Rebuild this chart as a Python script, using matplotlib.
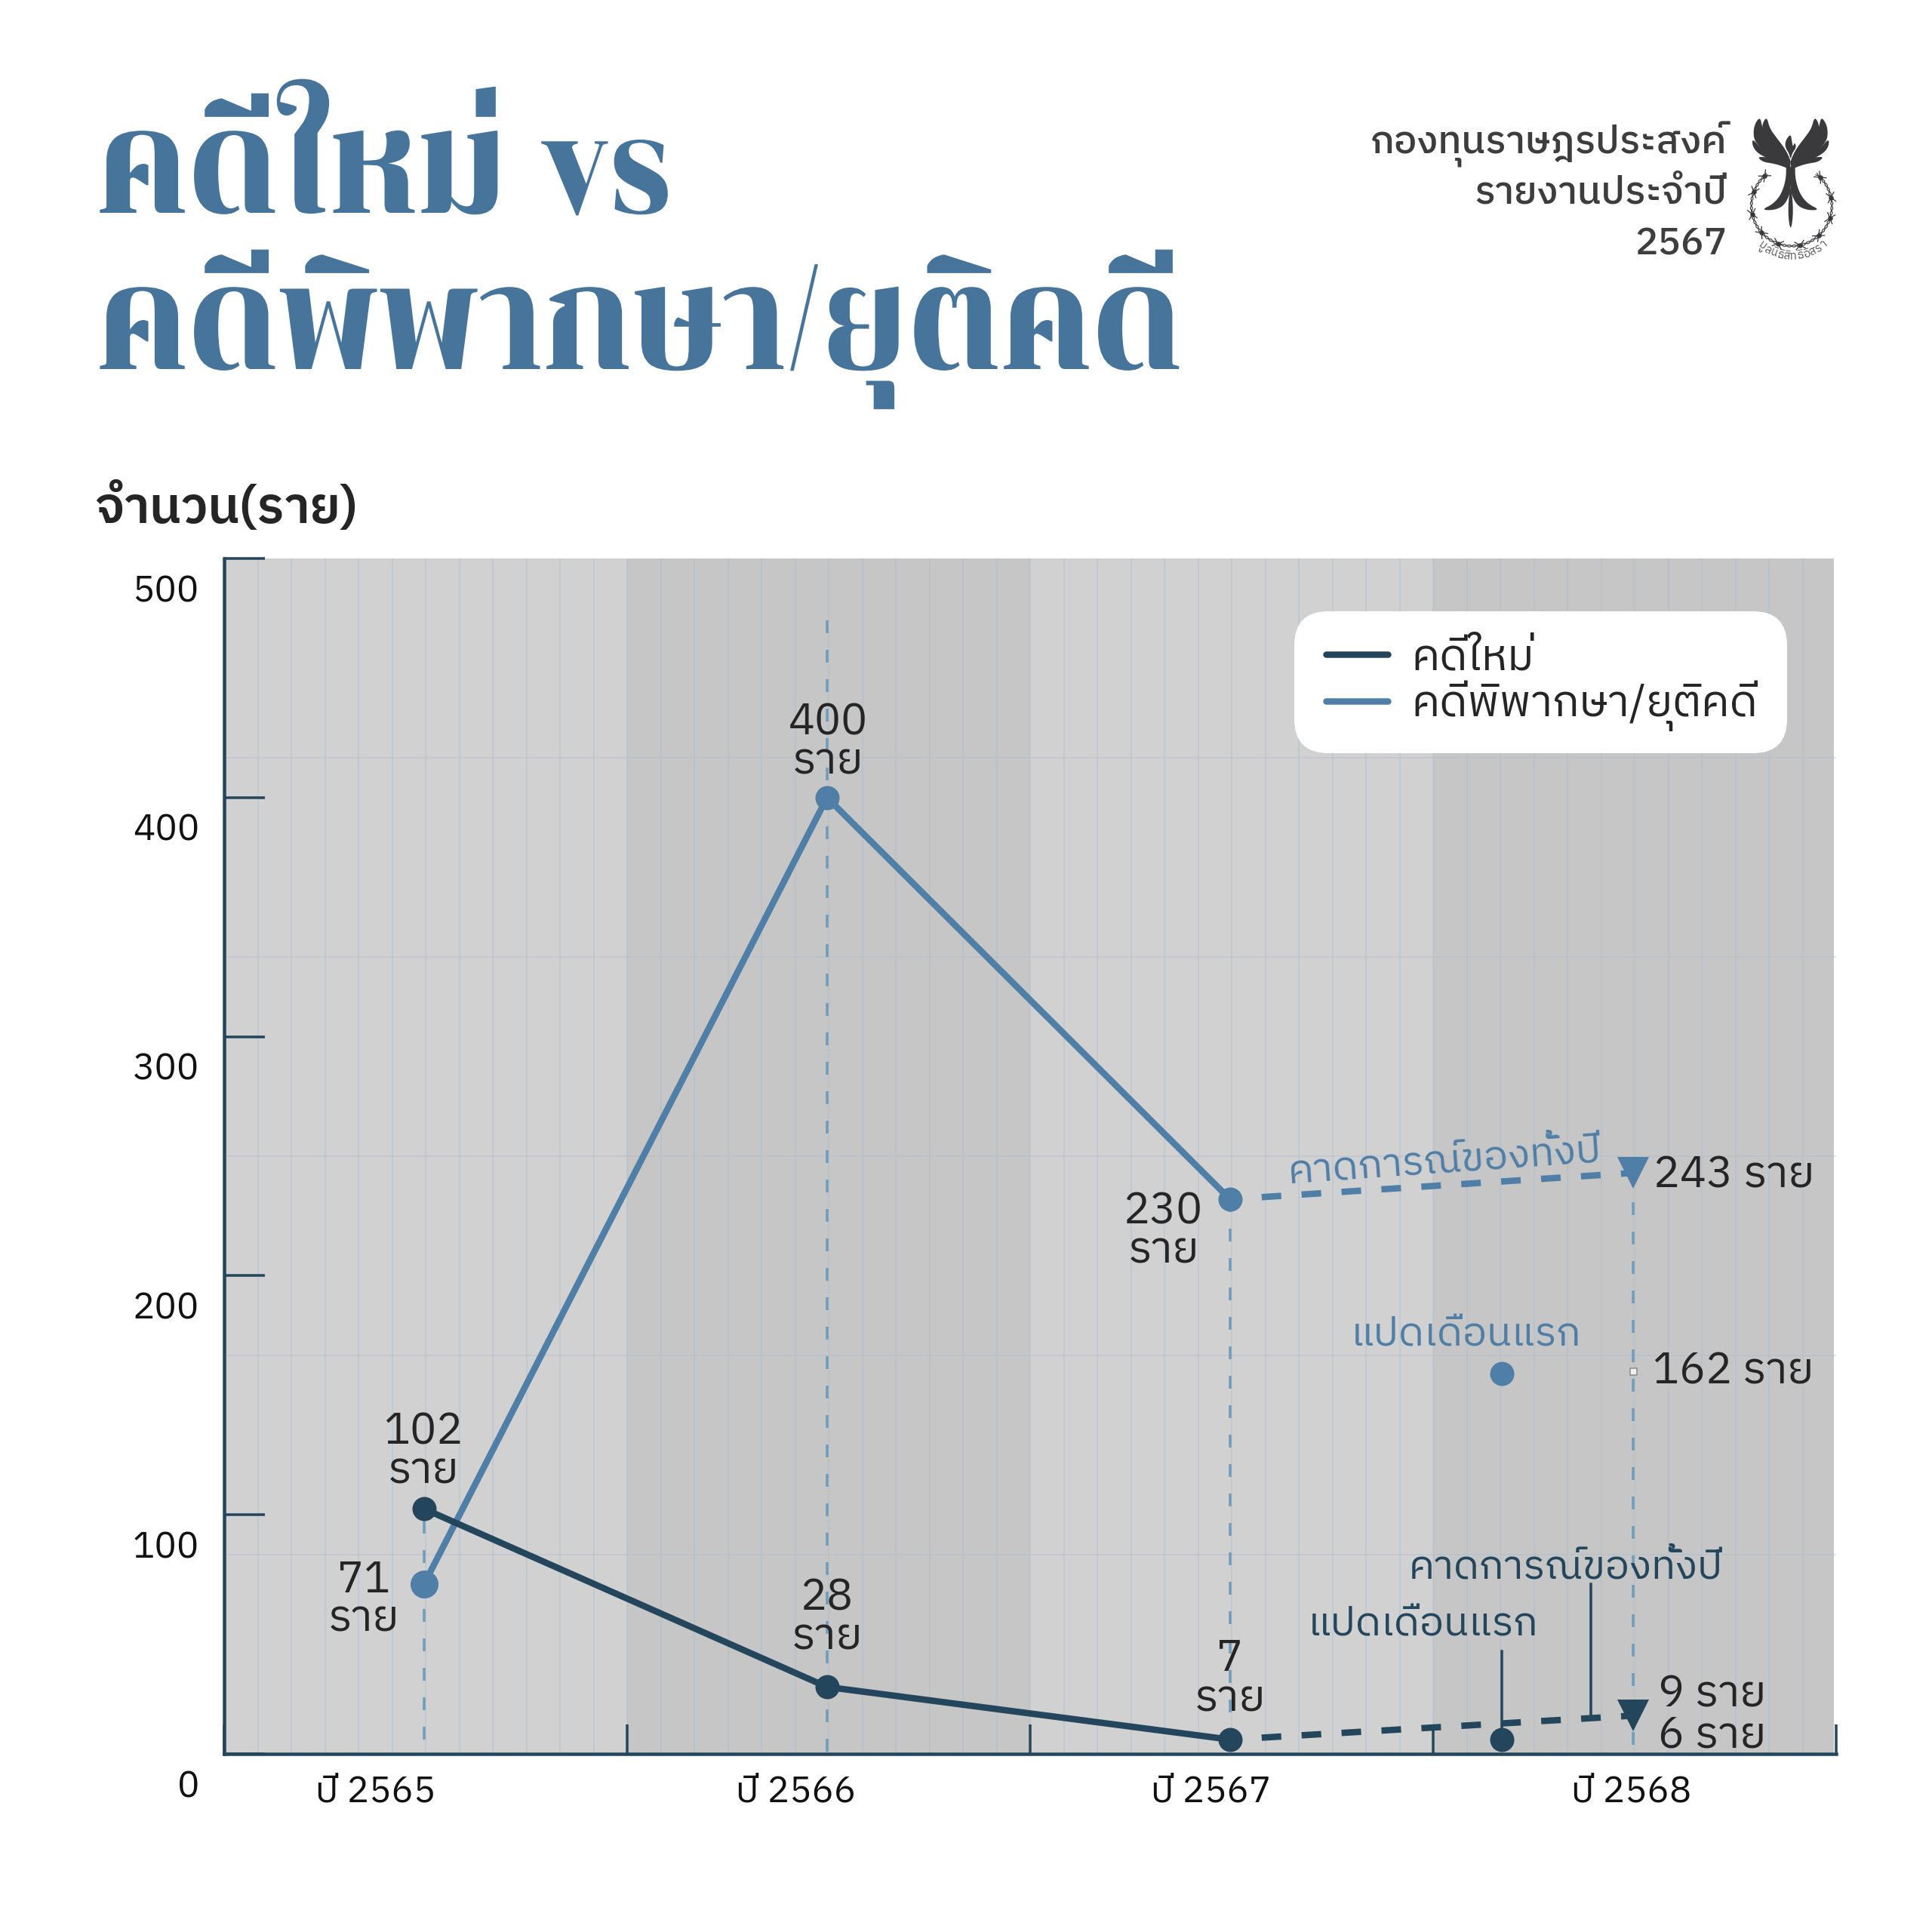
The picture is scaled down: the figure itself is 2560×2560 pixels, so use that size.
import numpy as np
import matplotlib
matplotlib.use('Agg')
import matplotlib.pyplot as plt
from matplotlib.patches import FancyBboxPatch, Polygon
from matplotlib.patheffects import AbstractPathEffect
from matplotlib.transforms import ScaledTranslation, Affine2D

BODY = ['IBM Plex Sans Thai', 'DejaVu Sans']
TITLE = ['Chonburi', 'DejaVu Serif']
plt.rcParams['font.family'] = BODY

DARK = '#24465c'
BLUE = '#4f7ea6'
TITLEC = '#47749a'
INK = '#252525'
LOGO = '#3a3a3c'

years = ['ปี 2565', 'ปี 2566', 'ปี 2567', 'ปี 2568']
year_pos = [0, 1, 2, 3]
new_cases = [102.5, 28, 6]
new_labels = [102, 28, 7]
closed_cases = [71, 400, 232]
closed_labels = [71, 400, 230]
forecast_new = 16
forecast_closed = 243
eight_month_x = 2.675
eight_month_new = 6
eight_month_closed = 159
y_ticks = [0, 100, 200, 300, 400, 500]

W = 2560
fig = plt.figure(figsize=(10, 10), dpi=256, facecolor='white')
def fs(px):
    return px * 72 / 256
lw3, lw8 = fs(3.5), fs(8.5)

L, R, B, T = 297, 2433, 2324, 740
ax = fig.add_axes([L / W, 1 - B / W, (R - L) / W, (B - T) / W])
x0 = -0.496
ax.set_xlim(x0, x0 + 4)
ax.set_ylim(0, 500)
ax.set_facecolor('white')

for k in range(4):
    right = x0 + k + 1 - (0.005 if k == 3 else 0)
    ax.axvspan(x0 + k, right, color='#d2d1d2' if k % 2 == 0 else '#c6c6c6', lw=0, zorder=0)
ax.vlines(x0 + np.arange(1, 48) / 12, 0, 500, color='#adbfcc', lw=fs(1.6), alpha=.55, zorder=1)
ax.hlines(np.arange(1, 6) * 500 / 6, x0, x0 + 4, color='#adbfcc', lw=fs(1.6), alpha=.5, zorder=1)

dash_v = (0, (17 / 3.5, 22 / 3.5))
guide = dict(color='#6f9cbc', lw=lw3, ls=dash_v, zorder=2)
ax.plot([year_pos[0]] * 2, [new_cases[0] - 5, 5], **guide)
ax.plot([year_pos[1]] * 2, [474, 1], **guide)
ax.plot([year_pos[2]] * 2, [closed_cases[2], 1], **guide)
ax.plot([year_pos[3]] * 2, [forecast_closed, 1], **guide)

l1, = ax.plot(year_pos[:3], new_cases, color=DARK, lw=lw8, zorder=4, solid_capstyle='round', label='คดีใหม่')
l2, = ax.plot(year_pos[:3], closed_cases, color=BLUE, lw=lw8, zorder=3, solid_capstyle='round', label='คดีพิพากษา/ยุติคดี')
ms = fs(32)
ax.plot(year_pos[:3], new_cases, 'o', color=DARK, ms=ms, mew=0, zorder=5)
ax.plot(year_pos[1:3], closed_cases[1:], 'o', color=BLUE, ms=ms, mew=0, zorder=5)
ax.plot(year_pos[0], closed_cases[0], 'o', color=BLUE, ms=fs(37), mew=0, zorder=5)

dash_f = (11 / 8.5, (26 / 8.5, 27 / 8.5))
ax.plot([2, 3], [closed_cases[2], forecast_closed], color=BLUE, lw=lw8, ls=dash_f, zorder=3)
ax.plot([2, 3], [new_cases[2], forecast_new], color=DARK, lw=lw8, ls=dash_f, zorder=3)
ax.plot(3, forecast_closed, 'v', color=BLUE, ms=fs(42), mew=0, zorder=5)
ax.plot(3, forecast_new, 'v', color=DARK, ms=fs(42), mew=0, zorder=5)
ax.plot(eight_month_x, eight_month_closed, 'o', color=BLUE, ms=ms, mew=0, zorder=5)
ax.plot(eight_month_x, eight_month_new, 'o', color=DARK, ms=ms, mew=0, zorder=5)
ax.plot(3, eight_month_closed + 1, 's', mfc='#f0f0f0', mec='#8a8a8a', mew=fs(1.5), ms=fs(9), zorder=5)

ax.plot([eight_month_x] * 2, [eight_month_new, 43], color=DARK, lw=fs(3.5), zorder=4)
ax.plot([2.896] * 2, [14.5, 71], color=DARK, lw=fs(3.5), zorder=4)

for s in ('top', 'right'):
    ax.spines[s].set_visible(False)
for s in ('left', 'bottom'):
    ax.spines[s].set_color(DARK)
    ax.spines[s].set_linewidth(fs(4.5))
ax.set_yticks(y_ticks)
ax.set_xticks([x0 + k for k in range(5)])
ax.set_xticklabels([])
ax.tick_params(axis='y', direction='in', length=fs(54), width=fs(3.5), color=DARK, pad=fs(33), labelsize=fs(49), labelcolor='#111111')
ax.tick_params(axis='x', direction='in', length=fs(39), width=fs(3.5), color=DARK)
off = ScaledTranslation(0, -39 / 256, fig.dpi_scale_trans)
for lab in ax.get_yticklabels():
    lab.set_transform(lab.get_transform() + off)

# overlay axes in picture pixels
ov = fig.add_axes([0, 0, 1, 1], facecolor='none')
ov.set_xlim(0, W); ov.set_ylim(W, 0); ov.axis('off')
ax.set_zorder(1); ov.set_zorder(2)
ov.add_patch(FancyBboxPatch((1715 + 45, 810 + 45), 653 - 90, 188 - 90, boxstyle='round,pad=45,rounding_size=45',
                            fc='white', ec='none', zorder=1))
leg = ov.legend(handles=[l1, l2], loc='upper right', bbox_to_anchor=(2329 / W, 1 - 844 / W),
                borderaxespad=0, borderpad=0, fontsize=fs(58.5), frameon=False,
                handlelength=1.4, handletextpad=0.53, labelspacing=0.05, labelcolor=INK)
leg.set_zorder(3)

def txt(x, y, s, size, color=INK, ha='left', va='baseline', **kw):
    return ov.text(x, y, s, fontsize=fs(size), color=color, ha=ha, va=va, zorder=10, **kw)

class StretchX(AbstractPathEffect):
    """Draw a text narrower than its font, around a fixed pixel column."""
    def __init__(self, sx, ox):
        super().__init__()
        self.sx, self.ox = sx, ox
    def draw_path(self, renderer, gc, tpath, affine, rgbFace=None):
        t = Affine2D().translate(-self.ox, 0).scale(self.sx, 1).translate(self.ox, 0)
        renderer.draw_path(gc, tpath, affine + t, rgbFace)

squeeze = [StretchX(0.79, 128)]
txt(128, 282, 'คดีใหม่ vs', 195, TITLEC, family=TITLE, path_effects=squeeze)
txt(128, 489, 'คดีพิพากษา/ยุติคดี', 195, TITLEC, family=TITLE, path_effects=squeeze)
txt(126, 693, 'จำนวน(ราย)', 67, INK, weight='semibold')

HC = '#3d3d3d'
txt(2288, 203, 'กองทุนราษฎรประสงค์', 51, HC, ha='right', weight='medium')
txt(2288, 270, 'รายงานประจำปี', 51, HC, ha='right', weight='medium')
txt(2288, 337, '2567', 51, HC, ha='right', weight='medium')

for name, cx in zip(years, (498, 1055, 1605, 2162)):
    txt(cx, 2387, name, 49, '#111111', ha='center')

size = 58.5
pairs = [
    (new_labels[0], 561, 1913, 1965),
    (closed_labels[0], 482, 2110, 2161),
    (closed_labels[1], 1097, 973, 1025),
    (new_labels[1], 1096, 2133, 2185),
    (closed_labels[2], 1542, 1622, 1674),
    (new_labels[2], 1630, 2214, 2267),
]
for v, cx, yn, yr in pairs:
    txt(cx, yn, str(v), size, ha='center')
    txt(cx, yr, 'ราย', size, ha='center')

txt(2191, 1573, f'{forecast_closed} ราย', size)
txt(2190, 1833, f'{eight_month_closed + 3} ราย', size)
txt(2197, 2261, '9 ราย', size)
txt(2197, 2315, f'{eight_month_new} ราย', size)

nsize = 53.5
txt(1914, 1538, 'คาดการณ์ของทั้งปี', nsize, BLUE, ha='center', va='center', rotation=4, rotation_mode='anchor')
txt(1943, 1783, 'แปดเดือนแรก', nsize, BLUE, ha='center')
txt(2075, 2091, 'คาดการณ์ของทั้งปี', nsize, DARK, ha='center')
txt(1886, 2168, 'แปดเดือนแรก', nsize, DARK, ha='center')

def zp(x, y):
    return 2300 + np.asarray(x, float) / 3, 140 + np.asarray(y, float) / 3
def smooth(pts, n=2):
    p = np.array(pts, float)
    for _ in range(n):
        a, b = p, np.roll(p, -1, axis=0)
        p = np.empty((2 * len(a), 2))
        p[0::2] = .75 * a + .25 * b
        p[1::2] = .25 * a + .75 * b
    return p
def shape(pts, mirror=True):
    p = smooth(pts)
    for m in ((False, True) if mirror else (False,)):
        q = p.copy()
        if m:
            q[:, 0] = 436 - q[:, 0]
        ov.add_patch(Polygon(np.c_[zp(q[:, 0], q[:, 1])], fc=LOGO, ec='none', zorder=5))

shape([(97, 45), (78, 68), (70, 100), (73, 135), (95, 165), (125, 190), (165, 215), (205, 242), (220, 238),
       (213, 215), (190, 182), (150, 150), (120, 120), (105, 85)])
shape([(123, 44), (106, 70), (106, 100), (125, 135), (160, 170), (195, 205), (220, 235), (216, 212),
       (195, 170), (160, 125), (135, 90)])
shape([(66, 130), (66, 160), (85, 187), (120, 207), (165, 227), (205, 245), (210, 225), (150, 195), (100, 170)])
shape([(85, 203), (108, 224), (150, 230), (190, 242), (215, 255), (218, 240), (170, 215), (125, 205)])
shape([(200, 232), (200, 290), (182, 350), (150, 390), (102, 414), (150, 416), (192, 398), (216, 350),
       (220, 300), (220, 235)])
shape([(218, 300), (206, 420), (218, 505), (230, 420)], mirror=False)
shape([(218, 112), (198, 138), (196, 165), (212, 190), (218, 215), (224, 190), (241, 165), (234, 145),
       (227, 165), (223, 140)], mirror=False)

cx, cy, rr = 222, 398, 160
tb = np.radians(np.linspace(-232, 52, 400))
for sgn in (1, -1):
    r = rr + sgn * 4 * np.sin(tb * 26)
    ov.plot(zp(cx + r * np.cos(tb), 0)[0], zp(0, cy - r * np.sin(tb))[1], color=LOGO, lw=fs(1.2), zorder=5)
for a in (-228, -200, -168, -138, -110, -78, -48, -18, 12, 45):
    ar = np.radians(a)
    bx, by = cx + rr * np.cos(ar), cy - rr * np.sin(ar)
    for da, ln in ((40, 24), (-40, 24)):
        d = ar + np.pi / 2 + np.radians(da)
        xs = [bx - ln * np.cos(d), bx + ln * np.cos(d)]
        ys = [by + ln * np.sin(d), by - ln * np.sin(d)]
        ov.plot(*zp(xs, ys), color=LOGO, lw=fs(1.3), zorder=5)
    ov.plot(*zp(bx, by), 'o', color=LOGO, ms=fs(6.5), mew=0, zorder=5)

clusters = ['มู', 'ล', 'นิ', 'ธิ', 'สิ', 'ท', 'ธิ', 'อิ', 'ส', 'ร', 'า']
for c, a in zip(clusters, np.linspace(-36, 40, len(clusters))):
    ar = np.radians(a)
    px_, py_ = zp(cx + 196 * np.sin(ar), cy + 196 * np.cos(ar))
    ov.text(px_, py_, c, fontsize=fs(15), color='#555555', ha='center', va='center_baseline',
            rotation=a, rotation_mode='anchor', zorder=6)

fig.savefig('out.png', dpi=256, facecolor='white')
